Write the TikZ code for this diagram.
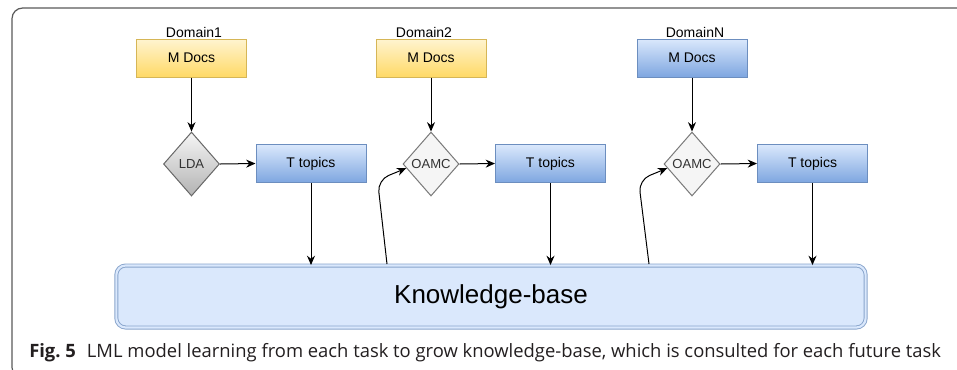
\documentclass[tikz,border=0pt]{standalone}
\usepackage{fontspec}
\setmainfont{Liberation Sans}
\newfontfamily\capfont{Open Sans}
\usetikzlibrary{shapes.geometric,arrows.meta,calc}

\definecolor{ylwtop}{HTML}{FFF4D0}
\definecolor{ylwbot}{HTML}{FFD966}
\definecolor{ylwline}{HTML}{D6B656}
\definecolor{blutop}{HTML}{DAE8FC}
\definecolor{blubot}{HTML}{7EA6E0}
\definecolor{bluline}{HTML}{6C8EBF}
\definecolor{grytop}{HTML}{F5F5F5}
\definecolor{grybot}{HTML}{B3B3B3}
\definecolor{gryline}{HTML}{7A7A7A}
\definecolor{kbfill}{HTML}{DAE8FC}
\definecolor{framecol}{HTML}{5A5A5A}
\definecolor{captxt}{HTML}{231F20}

\tikzset{
  box/.style={rectangle, draw, line width=0.75pt, minimum width=82.5pt,
    minimum height=28.5pt, inner sep=0pt, font=\fontsize{10.5pt}{12pt}\selectfont},
  docsY/.style={box, draw=ylwline, top color=ylwtop, bottom color=ylwbot},
  docsB/.style={box, draw=bluline, top color=blutop, bottom color=blubot},
  topicbox/.style={box, draw=bluline, top color=blutop, bottom color=blubot},
  gate/.style={diamond, draw=gryline, line width=0.75pt, inner sep=0pt,
    minimum width=42pt, minimum height=48pt, aspect=0.875},
  gatetext/.style={font=\fontsize{9.8pt}{11pt}\selectfont, text=black!80},
  dlabel/.style={font=\fontsize{10.5pt}{12pt}\selectfont},
  link/.style={line width=0.75pt, -{Stealth[length=7pt,width=6pt]}},
  feed/.style={line width=0.75pt, rounded corners=9pt, -{Stealth[length=7pt,width=6pt]}},
}

\begin{document}
\begin{tikzpicture}[x=0.75pt,y=-0.75pt]
\useasboundingbox (0,0) rectangle (957,369);
\fill[white] (0,0) rectangle (957,369);

% outer frame, open to the right and bottom
\begin{scope}
  \clip (0,0) rectangle (957,369);
  \draw[framecol, line width=0.9pt, rounded corners=8pt] (12,8) rectangle (1000,378);
\end{scope}

% domain headers
\node[dlabel] (h1) at (194,32) {Domain1};
\node[dlabel] (h2) at (424,32) {Domain2};
\node[dlabel] (hN) at (695,32) {DomainN};

% document sets
\node[docsY] (m1) at (191.5,58) {M Docs};
\node[docsY] (m2) at (431,58) {M Docs};
\node[docsB] (mN) at (692,58) {M Docs};

% topic models
\node[gate, top color=grytop, bottom color=grybot, draw=gryline!85!black,
      label={[gatetext]center:LDA}] (d1) at (191.5,164) {};
\node[gate, fill=grytop, label={[gatetext]center:OAMC}] (d2) at (431,164) {};
\node[gate, fill=grytop, label={[gatetext]center:OAMC}] (dN) at (692,164) {};

% extracted topics
\node[topicbox] (t1) at (311,163.5) {T topics};
\node[topicbox] (t2) at (550.5,163.5) {T topics};
\node[topicbox] (tN) at (812.5,163.5) {T topics};

% shared knowledge base
\node[rectangle, rounded corners=7pt, draw=bluline!80, fill=kbfill,
      double=kbfill, double distance=1.6pt, line width=0.7pt,
      minimum width=562pt, minimum height=46.5pt, inner sep=0pt,
      font=\fontsize{19.5pt}{22pt}\selectfont] (kb) at (491,296.5) {Knowledge-base};

% flow within each domain
\foreach \m/\d/\t in {m1/d1/t1, m2/d2/t2, mN/dN/tN}{
  \draw[link] (\m.south) -- (\d.north);
  \draw[link] (\d.east) -- (\t.west);
  \draw[link] (\t.south) -- (\t.south |- kb.north);
}

% knowledge fed back into later domains
\coordinate (k2) at (387,264);
\coordinate (kN) at (649,264);
\draw[feed] (k2) -- (377.5,180) -- ($(d2.west)!0.13!(d2.south)$);
\draw[feed] (kN) -- (638.5,180) -- ($(dN.west)!0.13!(dN.south)$);

% caption
\node[anchor=base west, inner sep=0pt, text=captxt,
      font=\capfont\fontsize{13.8pt}{16pt}\selectfont] (cap) at (29,357)
  {\textbf{Fig.~5}\hspace{0.6em}LML model learning from each task to grow knowledge-base, which is consulted for each future task};
\end{tikzpicture}
\end{document}
